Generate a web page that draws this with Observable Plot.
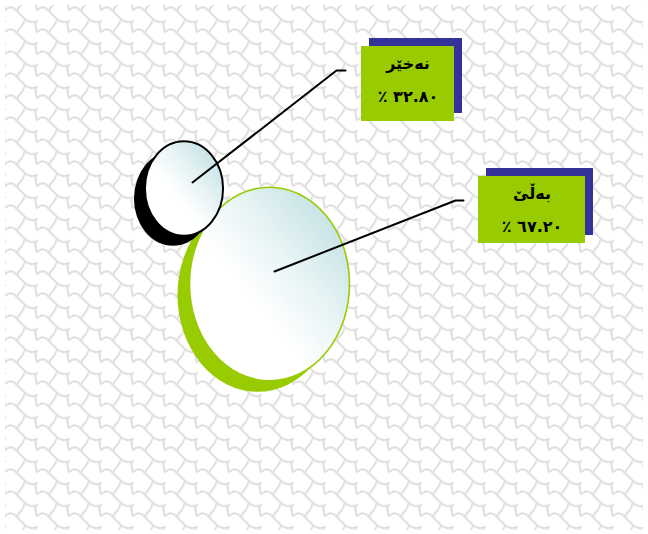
<!DOCTYPE html>
<html>
<head>
<meta charset="utf-8">
<script src="https://cdn.jsdelivr.net/npm/d3@7"></script>
<script src="https://cdn.jsdelivr.net/npm/@observablehq/plot@0.6"></script>
<style>
  html, body { margin: 0; padding: 0; background: #ffffff; }
  #chart svg { display: block; }
</style>
</head>
<body>
<div id="chart"></div>
<script>
// ---------- DATA ----------
const categories = ["نەخێر", "بەڵێ"];
const percents = [32.8, 67.2];
const percentLabels = ["٣٢.٨٠ ٪", "٦٧.٢٠ ٪"];

// ---------- LAYOUT (positions in identity x/y scales) ----------
const bubbleCenters = { "نەخێر": [183.5, 188], "بەڵێ": [269, 283.5] };
const shadowOffsets = { "نەخێر": [-11, 10], "بەڵێ": [-12, 11] };
const labelBoxes   = { "نەخێر": [361, 46, 454, 121], "بەڵێ": [478, 176, 585, 243] };
const leaderPaths  = {
  "نەخێر": [[192, 182], [336, 70], [345, 70]],
  "بەڵێ":  [[274, 271], [455, 200], [463, 200]]
};

// ---------- STYLES ----------
const shadowFill  = { "نەخێر": "#000000", "بەڵێ": "#99cc00" };
const bubbleStroke = { "نەخێر": "#000000", "بەڵێ": "#99cc00" };
const bubbleStrokeWidth = { "نەخێر": 2, "بەڵێ": 1.6 };
const ELLIPSE_RATIO = 1.21;

// ---------- TABLES ----------
const rows = categories.map((c, i) => ({
  category: c,
  value: percents[i],
  label: percentLabels[i],
  cx: bubbleCenters[c][0],
  cy: bubbleCenters[c][1],
  bx1: labelBoxes[c][0], by1: labelBoxes[c][1],
  bx2: labelBoxes[c][2], by2: labelBoxes[c][3]
}));
const leaderRows = categories.flatMap(c =>
  leaderPaths[c].map(([x, y]) => ({ category: c, x, y })));

const drawOrder = rows.slice().sort((a, b) => b.value - a.value);

const bubbleMarks = drawOrder.flatMap(d => [
  Plot.dot([d], {
    x: "cx", y: "cy", r: "value",
    fill: shadowFill[d.category],
    dx: shadowOffsets[d.category][0], dy: shadowOffsets[d.category][1]
  }),
  Plot.dot([d], {
    x: "cx", y: "cy", r: "value",
    fill: "url(#bubbleFill)",
    stroke: bubbleStroke[d.category],
    strokeWidth: bubbleStrokeWidth[d.category]
  })
]);

const chart = Plot.plot({
  width: 648,
  height: 534,
  margin: 0,
  style: { background: "white", fontFamily: "'DejaVu Sans', sans-serif" },
  x: { domain: [0, 648], range: [0, 648], axis: null },
  y: { domain: [0, 534], range: [0, 534], axis: null },
  r: { type: "linear", domain: [0, d3.max(percents)], range: [0, 80] },
  marks: [
    ...bubbleMarks,
    Plot.line(leaderRows, { x: "x", y: "y", z: "category", stroke: "#000", strokeWidth: 2 }),
    Plot.rect(rows, { x1: d => d.bx1 + 8, x2: d => d.bx2 + 8, y1: d => d.by1 - 8, y2: d => d.by2 - 8, fill: "#333399" }),
    Plot.rect(rows, { x1: "bx1", x2: "bx2", y1: "by1", y2: "by2", fill: "#99cc00" }),
    Plot.text(rows, {
      x: d => (d.bx1 + d.bx2) / 2, y: d => d.by1 + 17, text: "category",
      fontSize: 16, fontWeight: "bold", fill: "#000"
    }),
    Plot.text(rows, {
      x: d => (d.bx1 + d.bx2) / 2, y: d => d.by1 + 50, text: "label",
      fontSize: 16, fontWeight: "bold", fill: "#000"
    })
  ]
});

const svg = d3.select(chart);

// circles -> ellipses (bubbles drawn stretched vertically as in the reference)
svg.selectAll("circle").each(function () {
  const c = this;
  const e = document.createElementNS("http://www.w3.org/2000/svg", "ellipse");
  for (const a of Array.from(c.attributes)) {
    if (a.name !== "r") e.setAttribute(a.name, a.value);
  }
  const r = +c.getAttribute("r");
  e.setAttribute("rx", r);
  e.setAttribute("ry", r * ELLIPSE_RATIO);
  c.parentNode.replaceChild(e, c);
});

svg.selectAll("text").attr("direction", "rtl");

// defs: gradient + background pattern
const defs = svg.insert("defs", ":first-child");
const grad = defs.append("linearGradient")
  .attr("id", "bubbleFill")
  .attr("x1", 0.9).attr("y1", 0.12).attr("x2", 0.25).attr("y2", 0.75);
grad.append("stop").attr("offset", 0).attr("stop-color", "#c3e1e4");
grad.append("stop").attr("offset", 0.4).attr("stop-color", "#e6f3f4");
grad.append("stop").attr("offset", 0.75).attr("stop-color", "#ffffff");
grad.append("stop").attr("offset", 1).attr("stop-color", "#ffffff");

const pat = defs.append("pattern")
  .attr("id", "bgPattern")
  .attr("patternUnits", "userSpaceOnUse")
  .attr("x", 5).attr("y", 5)
  .attr("width", 32).attr("height", 22);
pat.append("path")
  .attr("d",
    "M0,5 C5,1 9,2 12,6 L20,14 C23,17 28,18 32,16 " +
    "M32,16 C30,18 30,20 31,22 M31,0 C31,2 31,4 32,5 " +
    "M0,16 C-2,18 -2,20 -1,22 M-1,0 C-1,2 -1,4 0,5 " +
    "M12,6 C13,3 15,1 16,0 M16,22 C18,20 19,17 20,14")
  .attr("fill", "none").attr("stroke", "#e1e1e1").attr("stroke-width", 2.2)
  .attr("stroke-linecap", "round");

svg.insert("rect", "defs + *")
  .attr("x", 5).attr("y", 5).attr("width", 638).attr("height", 525)
  .attr("fill", "url(#bgPattern)");

document.getElementById("chart").appendChild(chart);
</script>
</body>
</html>
